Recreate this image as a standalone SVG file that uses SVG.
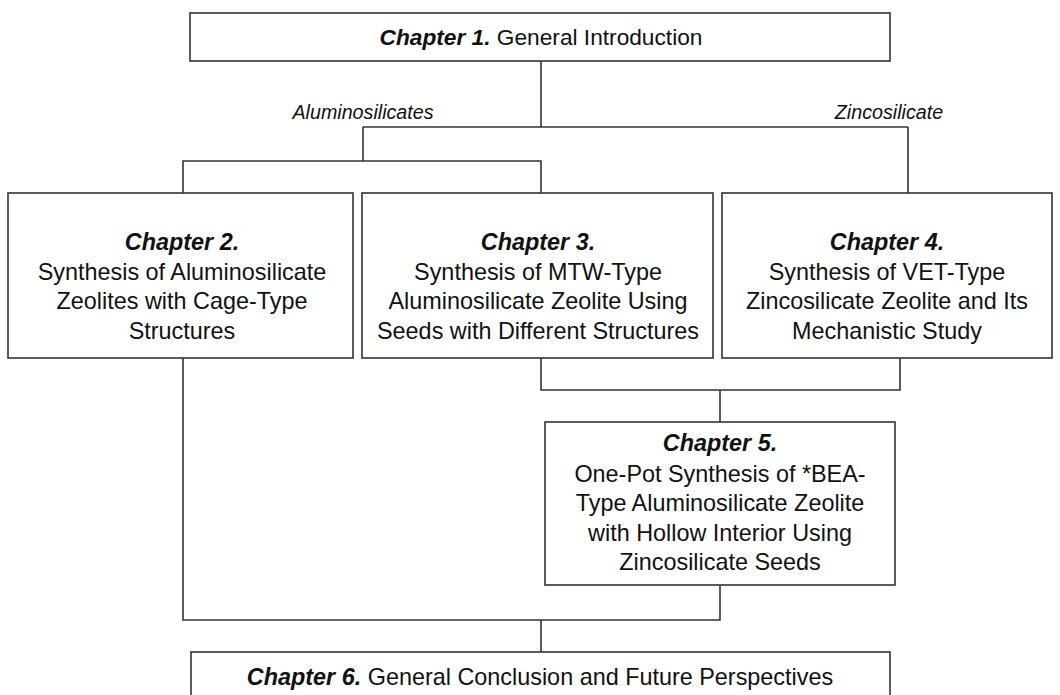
<svg xmlns="http://www.w3.org/2000/svg" width="1060" height="695" viewBox="0 0 1060 695">
<style>
.box{fill:#fff;stroke:#333;stroke-width:1.6}
.ln{fill:none;stroke:#333;stroke-width:1.6}
text{font-family:"Liberation Sans",Arial,sans-serif;font-size:23.4px;fill:#111;text-anchor:middle}
.b{font-weight:bold;font-style:italic}
.lab{font-style:italic;font-size:19.7px}
.t1{font-size:22.7px}
</style>
<rect width="1060" height="695" fill="#fff"/>
<g id="connectors">
<polyline class="ln" points="541,61 541,127"/>
<polyline class="ln" points="363,127 908,127"/>
<polyline class="ln" points="363,127 363,161"/>
<polyline class="ln" points="183,193 183,161 541,161 541,193"/>
<polyline class="ln" points="908,127 908,193"/>
<polyline class="ln" points="541,358 541,390 900,390 900,358"/>
<polyline class="ln" points="720,390 720,422"/>
<polyline class="ln" points="183,358 183,620 720,620 720,585"/>
<polyline class="ln" points="541,620 541,652"/>
<text class="lab" x="363" y="119">Aluminosilicates</text>
<text class="lab" x="889" y="119">Zincosilicate</text>
</g>
<g id="ch1">
<rect class="box" x="190" y="13" width="700" height="48"/>
<text class="t1" x="541" y="45"><tspan class="b">Chapter 1.</tspan> General Introduction</text>
</g>
<g id="ch2">
<rect class="box" x="8" y="193" width="345" height="165"/>
<text x="182" y="250" class="b">Chapter 2.</text>
<text x="182" y="280">Synthesis of Aluminosilicate</text>
<text x="182" y="309">Zeolites with Cage-Type</text>
<text x="182" y="339">Structures</text>
</g>
<g id="ch3">
<rect class="box" x="362" y="193" width="351" height="165"/>
<text x="538" y="250" class="b">Chapter 3.</text>
<text x="538" y="280">Synthesis of MTW-Type</text>
<text x="538" y="309">Aluminosilicate Zeolite Using</text>
<text x="538" y="339">Seeds with Different Structures</text>
</g>
<g id="ch4">
<rect class="box" x="722" y="193" width="330" height="165"/>
<text x="887" y="250" class="b">Chapter 4.</text>
<text x="887" y="280">Synthesis of VET-Type</text>
<text x="887" y="309">Zincosilicate Zeolite and Its</text>
<text x="887" y="339">Mechanistic Study</text>
</g>
<g id="ch5">
<rect class="box" x="545" y="422" width="350" height="163"/>
<text x="720" y="451" class="b">Chapter 5.</text>
<text x="720" y="482">One-Pot Synthesis of *BEA-</text>
<text x="720" y="511">Type Aluminosilicate Zeolite</text>
<text x="720" y="541">with Hollow Interior Using</text>
<text x="720" y="570">Zincosilicate Seeds</text>
</g>
<g id="ch6">
<rect class="box" x="191" y="652" width="699" height="60"/>
<text x="540" y="685"><tspan class="b">Chapter 6.</tspan> General Conclusion and Future Perspectives</text>
</g>
</svg>
